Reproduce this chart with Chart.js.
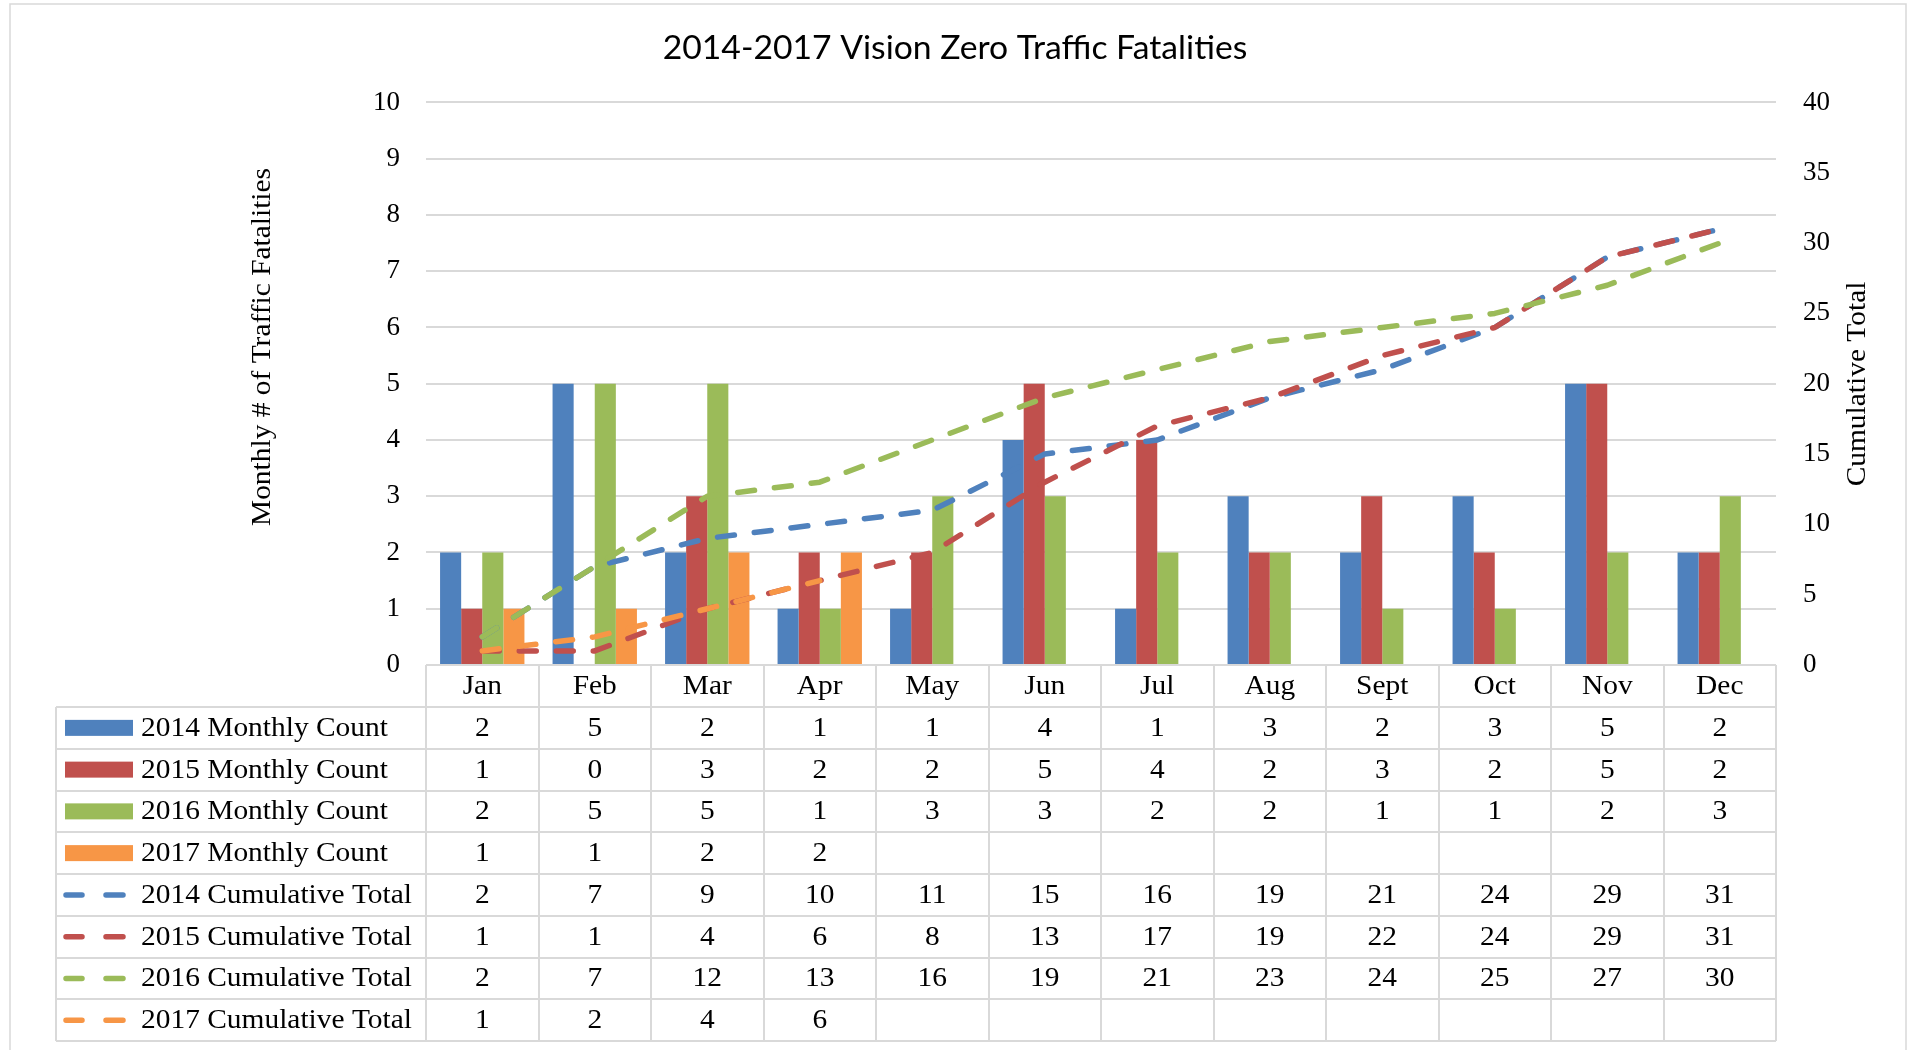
<!DOCTYPE html>
<html><head><meta charset="utf-8">
<script src="https://cdn.jsdelivr.net/npm/chart.js@4.4.1/dist/chart.umd.min.js"></script>
<style>html,body{margin:0;padding:0;background:#fff;overflow:hidden}</style>
</head><body>
<canvas id="c" width="1910" height="1050" style="display:block;width:1910px;height:1050px"></canvas>
<script>
const months = ['Jan','Feb','Mar','Apr','May','Jun','Jul','Aug','Sept','Oct','Nov','Dec'];
const monthly2014 = [2,5,2,1,1,4,1,3,2,3,5,2];
const monthly2015 = [1,0,3,2,2,5,4,2,3,2,5,2];
const monthly2016 = [2,5,5,1,3,3,2,2,1,1,2,3];
const monthly2017 = [1,1,2,2,null,null,null,null,null,null,null,null];
const cumulative2014 = [2,7,9,10,11,15,16,19,21,24,29,31];
const cumulative2015 = [1,1,4,6,8,13,17,19,22,24,29,31];
const cumulative2016 = [2,7,12,13,16,19,21,23,24,25,27,30];
const cumulative2017 = [1,2,4,6,null,null,null,null,null,null,null,null];
const seriesNames = ['2014 Monthly Count','2015 Monthly Count','2016 Monthly Count','2017 Monthly Count',
  '2014 Cumulative Total','2015 Cumulative Total','2016 Cumulative Total','2017 Cumulative Total'];
const titleText = '2014-2017 Vision Zero Traffic Fatalities';
const leftAxisTitle = 'Monthly # of Traffic Fatalities';
const rightAxisTitle = 'Cumulative Total';

const BLUE='#4F81BD', RED='#C0504D', GREEN='#9BBB59', ORANGE='#F79646';
const colors=[BLUE,RED,GREEN,ORANGE];
const SERIF='"Liberation Serif", "Times New Roman", serif';
const GRID='#D9D9D9';
const DASH=[17,20];
const STRETCH=1.09;

const barSets=[monthly2014,monthly2015,monthly2016,monthly2017].map((d,i)=>({
  type:'bar', label:seriesNames[i], data:d, backgroundColor:colors[i], borderWidth:0,
  yAxisID:'y', categoryPercentage:0.75, barPercentage:1.0, order:10
}));
const lineSets=[cumulative2014,cumulative2015,cumulative2016,cumulative2017].map((d,i)=>({
  type:'line', label:seriesNames[i+4], data:d, borderColor:colors[i], backgroundColor:colors[i],
  borderWidth:5.5, borderDash:DASH, borderCapStyle:'round', borderJoinStyle:'round',
  pointRadius:0, fill:false, tension:0, yAxisID:'y2', order:4-i
}));

function stretchText(ctx,text,x,y,align,rot){
  ctx.save(); ctx.translate(x,y); if(rot) ctx.rotate(rot); ctx.scale(STRETCH,1);
  ctx.textAlign=align; ctx.fillText(text,0,0); ctx.restore();
}

const tablePlugin={
  id:'tablePlugin',
  afterDraw(chart){
    const ctx=chart.ctx, ca=chart.chartArea, xs=chart.scales.x;
    const w=xs.getPixelForValue(1)-xs.getPixelForValue(0);
    const headTop=ca.bottom, headBot=headTop+42, rowH=41.75, nRows=8;
    const legLeft=56;
    const bottom=headBot+rowH*nRows;
    ctx.save();
    ctx.strokeStyle=GRID; ctx.lineWidth=1.5;
    ctx.strokeRect(10,4,1896,1080);
    ctx.lineWidth=2; ctx.strokeStyle=GRID;
    ctx.beginPath();
    for(let i=0;i<=months.length;i++){
      const x=Math.round(xs.getPixelForValue(i)-w/2);
      ctx.moveTo(x,headTop); ctx.lineTo(x,bottom);
    }
    ctx.moveTo(legLeft,headBot); ctx.lineTo(legLeft,bottom);
    for(let r=0;r<=nRows;r++){
      const y=Math.round(headBot+r*rowH);
      ctx.moveTo(legLeft,y); ctx.lineTo(ca.right,y);
    }
    ctx.stroke();
    ctx.fillStyle='#000'; ctx.font='27px '+SERIF; ctx.textBaseline='middle';
    months.forEach((m,i)=>stretchText(ctx,m,xs.getPixelForValue(i),(headTop+headBot)/2+1,'center'));
    const rows=[monthly2014,monthly2015,monthly2016,monthly2017,cumulative2014,cumulative2015,cumulative2016,cumulative2017];
    rows.forEach((d,r)=>{
      const cy=headBot+r*rowH+rowH/2;
      const col=colors[r%4];
      if(r<4){
        ctx.fillStyle=col; ctx.fillRect(65,cy-8,68,16);
      } else {
        ctx.strokeStyle=col; ctx.lineWidth=5.5; ctx.lineCap='round';
        ctx.beginPath(); ctx.moveTo(66,cy); ctx.lineTo(82,cy); ctx.moveTo(106,cy); ctx.lineTo(123,cy); ctx.stroke();
      }
      ctx.fillStyle='#000';
      stretchText(ctx,seriesNames[r],141,cy+1,'left');
      d.forEach((v,i)=>{ if(v!==null&&v!==undefined) stretchText(ctx,String(v),xs.getPixelForValue(i),cy+1,'center'); });
    });
    ctx.fillStyle='#000'; ctx.font='27px '+SERIF; ctx.textBaseline='middle';
    stretchText(ctx,leftAxisTitle,263,347,'center',-Math.PI/2);
    stretchText(ctx,rightAxisTitle,1858,384,'center',-Math.PI/2);
    ctx.restore();
  }
};

new Chart(document.getElementById('c'),{
  data:{labels:months, datasets:[...barSets,...lineSets]},
  options:{
    responsive:false, animation:false, devicePixelRatio:1,
    layout:{padding:{top:0,bottom:385,left:0,right:0}},
    plugins:{
      legend:{display:false}, tooltip:{enabled:false},
      title:{display:true,text:titleText,color:'#000',
        font:{family:'Lato, "Liberation Sans", sans-serif',size:33.7,weight:'normal',lineHeight:1.2},
        padding:{top:28,bottom:34}}
    },
    scales:{
      x:{display:false, offset:true, grid:{display:false}},
      y:{position:'left',min:0,max:10,
        ticks:{stepSize:1,padding:26,color:'#000',font:{family:SERIF,size:27}},
        grid:{color:GRID,lineWidth:2,drawTicks:false,tickLength:0},
        border:{display:false},
        afterFit(s){s.width=426;}
      },
      y2:{position:'right',min:0,max:40,
        ticks:{stepSize:5,padding:27,color:'#000',font:{family:SERIF,size:27}},
        grid:{display:false,drawTicks:false,tickLength:0},
        border:{display:false},
        afterFit(s){s.width=134;}
      }
    }
  },
  plugins:[tablePlugin]
});
</script>
</body></html>
